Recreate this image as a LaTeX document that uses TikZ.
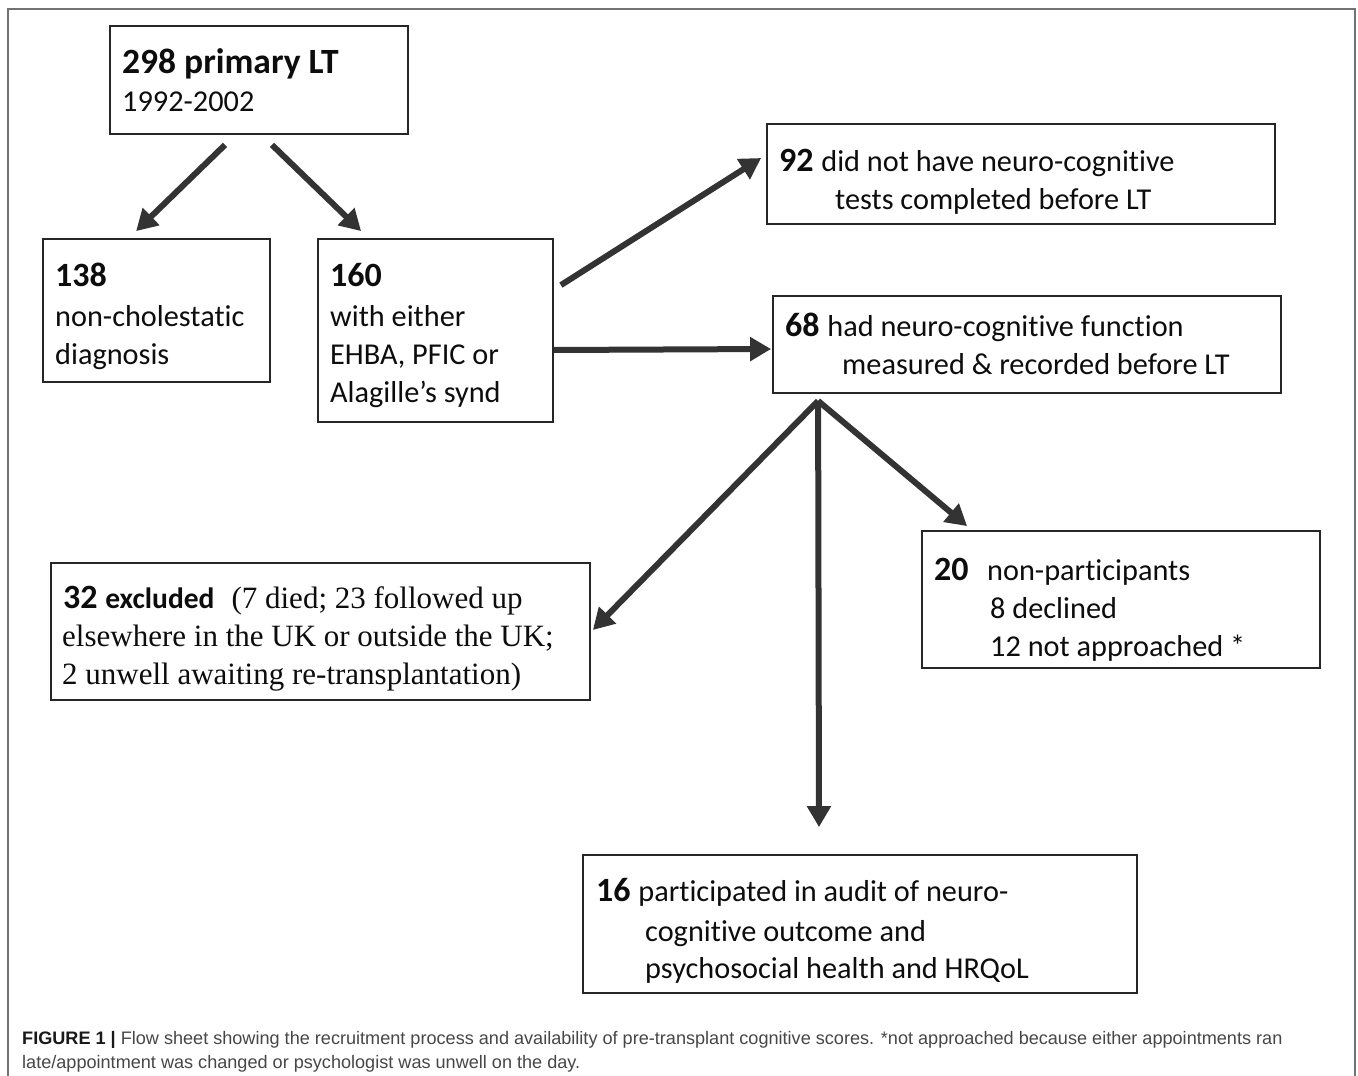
\documentclass[tikz,border=0pt]{standalone}
\usepackage{fontspec}
\setmainfont{Carlito}[Ligatures=CommonOff]
\newfontfamily\serifcam{Liberation Serif}
\newfontfamily\capfont{Liberation Sans}
\usetikzlibrary{arrows.meta,calc}
\newcommand\bodyf{\fontsize{30.3}{36}\selectfont}
\newcommand\numf{\fontsize{34}{36}\selectfont\bfseries}
\newcommand\serf{\serifcam\fontsize{31}{36}\selectfont}
\newcommand\capf{\capfont\fontsize{18.1}{24}\selectfont}
\tikzset{
  box/.style={draw=black!85, line width=1.8pt, rectangle, inner sep=0pt},
  arr/.style={line width=6pt, draw=black!80, -{Triangle[length=21pt,width=23pt]}},
  txt/.style={anchor=base west, inner sep=0pt, text=black!95},
  captxt/.style={anchor=base west, inner sep=0pt, text=black!72},
}
\begin{document}
\begin{tikzpicture}[x=1pt,y=-1pt]
\useasboundingbox (0,0) rectangle (1358,1076);
\fill[white] (0,0) rectangle (1358,1076);
% outer frame
\draw[line width=1.6pt, draw=black!55] (8,1076) -- (8,9) -- (1355,9) -- (1355,1076);

% boxes
\node[box, minimum width=298pt, minimum height=108pt] (A) at (259,80) {};
\node[box, minimum width=227pt, minimum height=143pt] (B) at (156.5,310.5) {};
\node[box, minimum width=235pt, minimum height=183pt] (C) at (435.5,330.5) {};
\node[box, minimum width=508pt, minimum height=100pt] (D) at (1021,174) {};
\node[box, minimum width=508pt, minimum height=97pt] (E) at (1027,344.5) {};
\node[box, minimum width=539pt, minimum height=137pt] (F) at (320.5,631.5) {};
\node[box, minimum width=398pt, minimum height=137pt] (G) at (1121,599.5) {};
\node[box, minimum width=554pt, minimum height=138pt] (H) at (860,924) {};

% texts
\node[txt] (a1) at (122,73) {\fontsize{35.5}{36}\selectfont\bfseries 298 primary LT};
\node[txt] (a2) at (122,111) {\bodyf 1992-2002};

\node[txt] (b1) at (55,286) {\numf 138};
\node[txt] (b2) at (55,326) {\bodyf non-cholestatic};
\node[txt] (b3) at (55,364) {\bodyf diagnosis};

\node[txt] (c1) at (330,286) {\numf 160};
\node[txt] (c2) at (330,326) {\bodyf with either};
\node[txt] (c3) at (330,364) {\bodyf EHBA, PFIC or};
\node[txt] (c4) at (330,402) {\bodyf Alagille’s synd};

\node[txt] (d1) at (779,171) {\numf 92 \bodyf\mdseries did not have neuro-cognitive};
\node[txt] (d2) at (835,209) {\bodyf tests completed before LT};

\node[txt] (e1) at (785,336) {\numf 68 \bodyf\mdseries had neuro-cognitive function};
\node[txt] (e2) at (842,374) {\bodyf measured \& recorded before LT};

\node[txt] (f1) at (63,608) {\numf 32 \fontsize{29.5}{36}\selectfont excluded\hspace{17pt}\serf\mdseries(7 died; 23 followed up};
\node[txt] (f2) at (62,646) {\serf elsewhere in the UK or outside the UK;};
\node[txt] (f3) at (62,684) {\serf 2 unwell awaiting re-transplantation)};

\node[txt] (g1) at (934,580) {\numf 20};
\node[txt] (g1b) at (987,580) {\bodyf non-participants};
\node[txt] (g2) at (990,618) {\bodyf 8 declined};
\node[txt] (g3) at (990,656) {\bodyf 12 not approached *};

\node[txt] (h1) at (596,901) {\numf 16 \bodyf\mdseries participated in audit of neuro-};
\node[txt] (h2) at (645,941) {\bodyf cognitive outcome and};
\node[txt] (h3) at (645,978) {\bodyf psychosocial health and HRQoL};

% arrows
\draw[arr] ($(A.south)+(-34,10)$) -- ($(B.north west)+(94,-7)$);
\draw[arr] ($(A.south)+(13,10)$) -- ($(C.north west)+(44,-7)$);
\draw[arr] ($(C.north east)+(7,47)$) -- ($(D.west)+(-5,-16)$);
\draw[arr] ($(C.east)+(0,19.5)$) -- ($(E.west)+(-1,4.5)$);
\coordinate (fan) at ($(E.south west)+(46,7)$);
\draw[arr] (fan) -- ($(F.east)+(2,-1.5)$);
\draw[arr] (fan) -- ($(G.north west)+(46,-4)$);
\draw[arr] ($(fan)+(0,3)$) -- ($(H.north)+(-41,-27)$);

% caption
\node[captxt] (cap1) at (22,1044) {\capf{\color{black!90}\bfseries FIGURE 1 |} Flow sheet showing the recruitment process and availability of pre-transplant cognitive scores. *not approached because either appointments ran};
\node[captxt] (cap2) at (22,1068) {\capf late/appointment was changed or psychologist was unwell on the day.};
\end{tikzpicture}
\end{document}
